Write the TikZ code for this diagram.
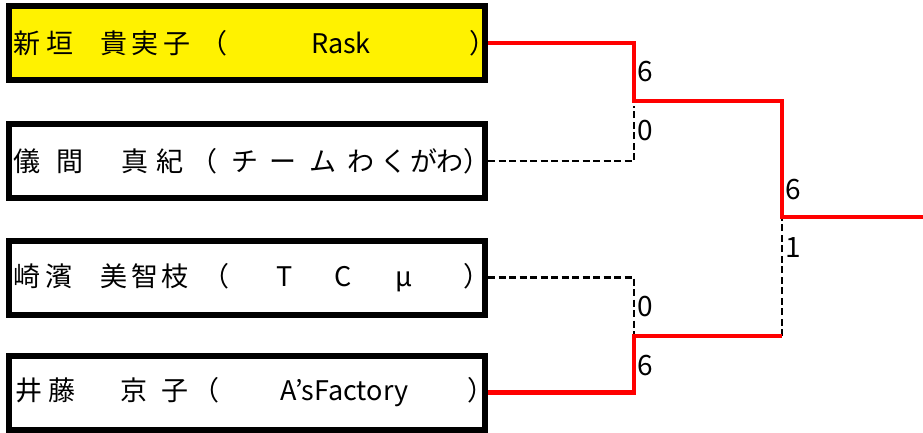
\documentclass[tikz,border=0pt]{standalone}
\usepackage{fontspec}
\setmainfont{Noto Sans CJK JP}
\usepackage{tikz}

% one glyph (or word) at a fixed offset from the left edge of a box
\newcommand{\ch}[2]{\rlap{\hspace*{#1pt}#2}}

\begin{document}
\begin{tikzpicture}[x=1pt,y=-1pt]
\tikzstyle{every node}+=[inner sep=0pt]
\tikzstyle{player}=[draw=black,line width=6pt,minimum width=476pt,minimum height=74pt,font=\fontsize{27}{30}\selectfont]
\tikzstyle{win}=[red,line width=4.5pt]
\tikzstyle{lose}=[black,line width=2.2pt,dash pattern=on 7pt off 3.5pt]
\tikzstyle{score}=[anchor=west,font=\fontsize{28}{30}\selectfont]
\useasboundingbox (0,0) rectangle (923,432);
% players
\node [player,fill=yellow] (p1) at (247,43) {\makebox[476pt][l]{\ch{5}{新}\ch{38}{垣}\ch{92}{貴}\ch{123}{実}\ch{155}{子}\ch{192}{（}\ch{302}{Rask}\ch{460}{）}}};
\node [player] (p2) at (247,161) {\makebox[476pt][l]{\ch{5}{儀}\ch{48}{間}\ch{113}{真}\ch{148}{紀}\ch{182}{（}\ch{223}{チ}\ch{261}{ー}\ch{301}{ム}\ch{339}{わ}\ch{372}{く}\ch{402}{が}\ch{427}{わ}\ch{454}{）}}};
\node [player] (p3) at (247,277.5) {\makebox[476pt][l]{\ch{5}{崎}\ch{37}{濱}\ch{92}{美}\ch{123}{智}\ch{153}{枝}\ch{194}{（}\ch{268}{T}\ch{326}{C}\ch{387}{μ}\ch{455}{）}}};
\node [player] (p4) at (247,392.5) {\makebox[476pt][l]{\ch{7}{井}\ch{40}{藤}\ch{112}{京}\ch{153}{子}\ch{184}{（}\ch{272}{A’sFactory}\ch{459}{）}}};
% bracket joints
\coordinate (m1) at (634,101);
\coordinate (m2) at (634,336);
\coordinate (f) at (782,217);
\coordinate (fin) at (930,217);
% losers
\draw [lose] (p2.east) -| ([yshift=-5pt]m1);
\draw [lose] (p3.east) -| ([yshift=2pt]m2);
\draw [lose] (m2 -| f) -- ([yshift=5pt]f);
% winners
\draw [win] (p1.east) -| (m1) -| (f) -- (fin);
\draw [win] (p4.east) -| (m2) -- (m2 -| f);
% scores
\node [score] (s1) at (637,72) {6};
\node [score] (s2) at (637,131) {0};
\node [score] (s3) at (785,190) {6};
\node [score] (s4) at (785,248) {1};
\node [score] (s5) at (637,307) {0};
\node [score] (s6) at (637,366) {6};
\end{tikzpicture}
\end{document}
